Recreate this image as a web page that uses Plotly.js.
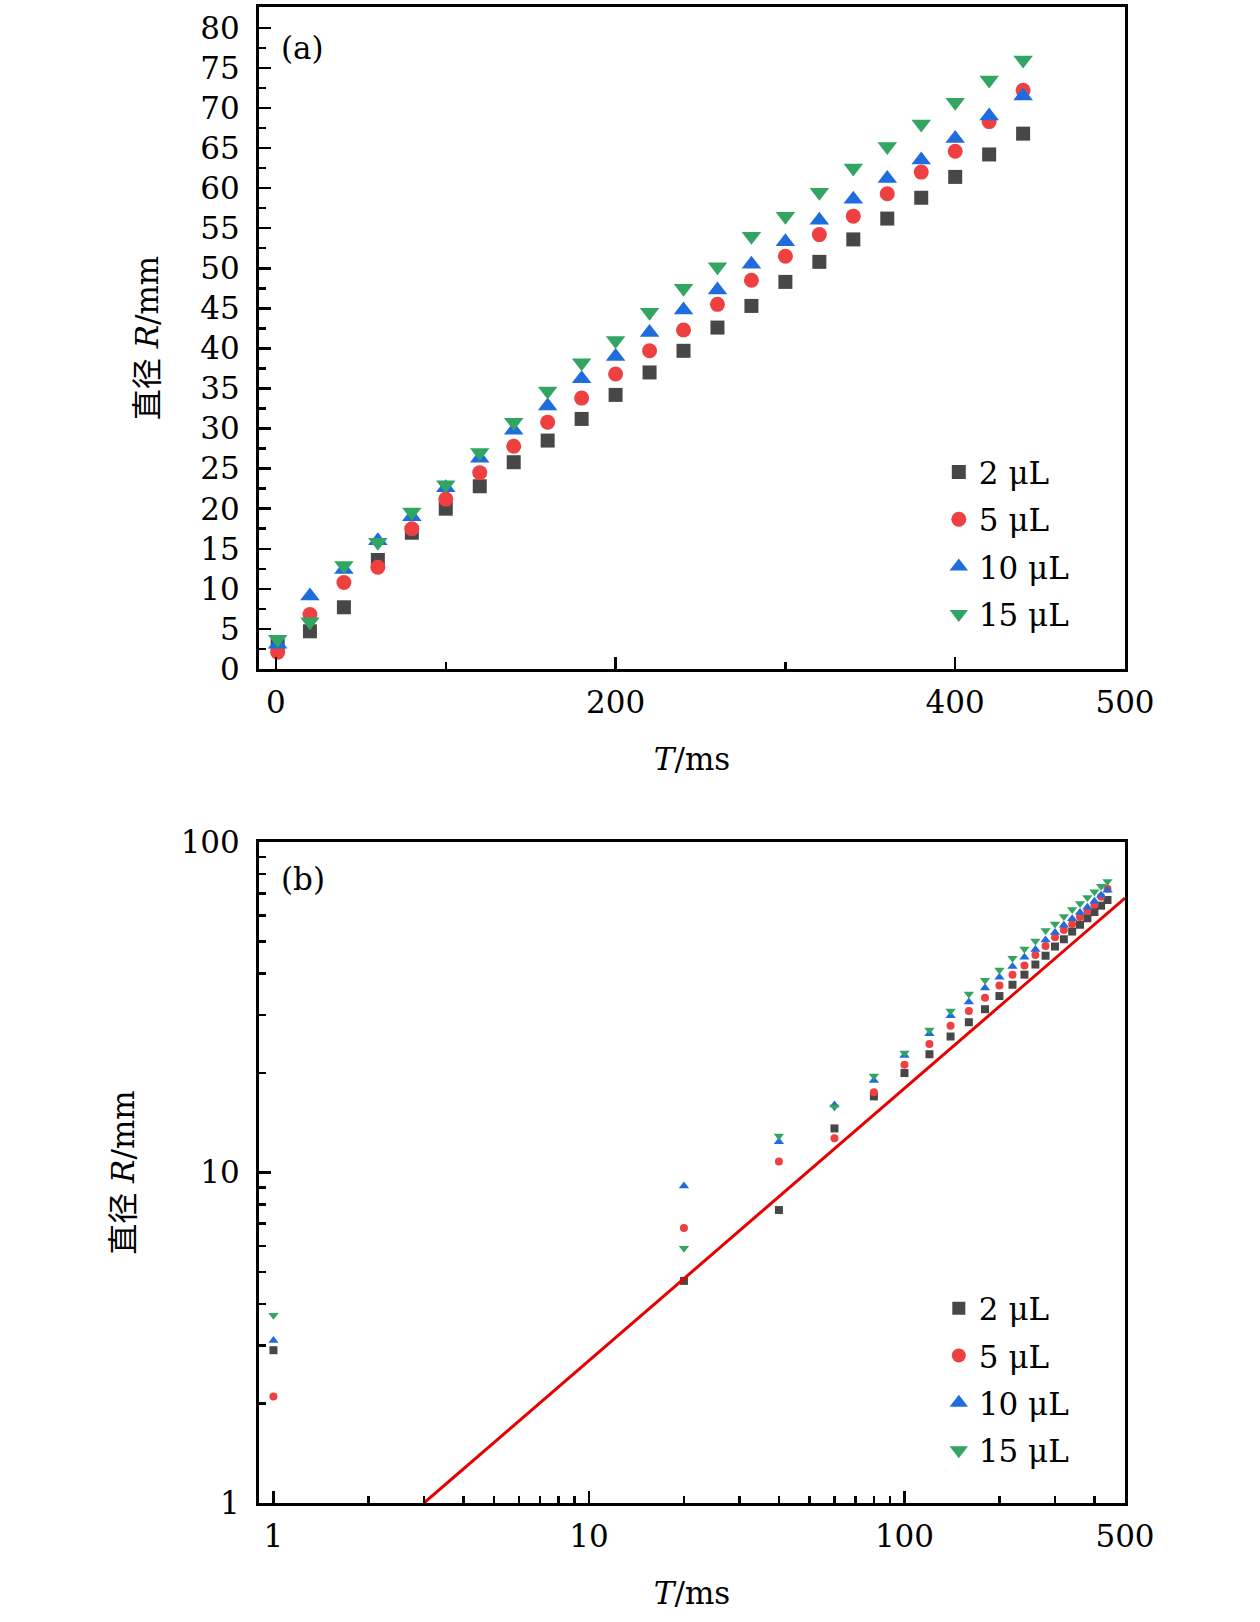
<!DOCTYPE html>
<html>
<head>
<meta charset="utf-8">
<script src="https://cdn.plot.ly/plotly-3.0.1.min.js"></script>
<style>html,body{margin:0;padding:0;background:#fff;}</style>
</head>
<body>
<div id="chart" style="width:1260px;height:1622px;"></div>
<script>
// Time (ms)
const timeMs = [1, 20, 40, 60, 80, 100, 120, 140, 160, 180, 200, 220, 240, 260, 280, 300, 320, 340, 360, 380, 400, 420, 440];
// Diameter R (mm) per droplet volume
const r2uL  = [2.9, 4.7, 7.7, 13.6, 17.0, 20.0, 22.8, 25.8, 28.5, 31.2, 34.2, 37.0, 39.7, 42.6, 45.3, 48.3, 50.8, 53.6, 56.2, 58.8, 61.4, 64.2, 66.8];
const r5uL  = [2.1, 6.8, 10.8, 12.7, 17.5, 21.2, 24.5, 27.8, 30.8, 33.8, 36.8, 39.7, 42.3, 45.5, 48.5, 51.5, 54.2, 56.5, 59.3, 62.0, 64.6, 68.3, 72.2];
const r10uL = [3.1, 9.1, 12.4, 16.0, 19.0, 22.6, 26.3, 29.8, 32.8, 36.2, 39.0, 42.0, 44.8, 47.3, 50.5, 53.3, 56.0, 58.6, 61.2, 63.5, 66.2, 69.0, 71.5];
const r15uL = [3.7, 5.9, 12.9, 15.8, 19.6, 23.0, 27.0, 30.8, 34.7, 38.2, 41.0, 44.5, 47.5, 50.2, 54.0, 56.5, 59.5, 62.5, 65.2, 68.0, 70.7, 73.5, 76.0];
// Reference power-law line in panel (b), endpoints
const lineT = [3.0, 500];
const lineR = [1.0, 67.7];

const seriesNames = ['2 μL', '5 μL', '10 μL', '15 μL'];
const seriesData = [r2uL, r5uL, r10uL, r15uL];
const symbols = ['square', 'circle', 'triangle-up', 'triangle-down'];
const colors = ['#474747', '#ee4040', '#1f6cde', '#33a563'];
const sizesA = [14, 15, 17, 17];
const sizesB = [8, 8, 9, 9];
const sizesLegend = [13, 14, 16, 16];

const traces = [];
for (let i = 0; i < 4; i++) {
  traces.push({
    x: timeMs, y: seriesData[i], type: 'scatter', mode: 'markers',
    name: seriesNames[i], xaxis: 'x', yaxis: 'y', legend: 'legend', legendgroup: 'a' + i,
    marker: {symbol: symbols[i], color: colors[i], size: sizesA[i], line: {width: 0}}
  });
}
for (let i = 0; i < 4; i++) {
  traces.push({
    x: timeMs, y: seriesData[i], type: 'scatter', mode: 'markers',
    name: seriesNames[i], xaxis: 'x2', yaxis: 'y2', showlegend: false,
    marker: {symbol: symbols[i], color: colors[i], size: sizesB[i], line: {width: 0}}
  });
}
// legend entries for panel (b) (no data points, legend symbols only)
for (let i = 0; i < 4; i++) {
  traces.push({
    x: [null], y: [null], type: 'scatter', mode: 'markers',
    name: seriesNames[i], xaxis: 'x2', yaxis: 'y2', legend: 'legend2', legendgroup: 'b' + i,
    marker: {symbol: symbols[i], color: colors[i], size: sizesLegend[i], line: {width: 0}}
  });
}
traces.push({
  x: lineT, y: lineR, type: 'scatter', mode: 'lines', xaxis: 'x2', yaxis: 'y2',
  showlegend: false, line: {color: '#e60000', width: 3}
});

const FONT = 'DejaVu Serif, Noto Sans CJK SC, serif';
const axisCommon = {
  showline: true, linewidth: 3, linecolor: 'black', mirror: true,
  showgrid: false, zeroline: false,
  ticks: 'inside', ticklen: 12, tickwidth: 2.5, tickcolor: 'black',
  tickfont: {family: FONT, size: 31, color: 'black'}
};
const yTitle = {text: '直径 <i>R</i>/mm', font: {family: FONT, size: 31, color: 'black'}};
const xTitle = {text: '<i>T</i>/ms', font: {family: FONT, size: 31, color: 'black'}};

const layout = {
  width: 1260, height: 1622,
  margin: {l: 259, r: 135, t: 7, b: 119},
  paper_bgcolor: 'white', plot_bgcolor: 'white',
  font: {family: FONT, size: 31, color: 'black'},
  xaxis: Object.assign({}, axisCommon, {
    domain: [0, 1], anchor: 'y', range: [-10, 500],
    tickmode: 'array', tickvals: [0, 200, 400, 500], ticktext: ['0', '200', '400', '500'],
    ticklabelstandoff: 4,
    minor: {tickvals: [100, 300], ticks: 'inside', ticklen: 7, tickwidth: 2.5, tickcolor: 'black'},
    title: Object.assign({}, xTitle, {standoff: 30})
  }),
  yaxis: Object.assign({}, axisCommon, {
    domain: [0.5575, 1], anchor: 'x', range: [0, 82.6],
    tickmode: 'linear', tick0: 0, dtick: 5,
    ticklabelstandoff: 10,
    minor: {dtick: 2.5, ticks: 'inside', ticklen: 7, tickwidth: 2.5, tickcolor: 'black'},
    title: Object.assign({}, yTitle, {standoff: 33})
  }),
  xaxis2: Object.assign({}, axisCommon, {
    type: 'log', domain: [0, 1], anchor: 'y2', range: [Math.log10(0.9), Math.log10(500)],
    tickmode: 'array', tickvals: [1, 10, 100, 500], ticktext: ['1', '10', '100', '500'],
    ticklabelstandoff: 4,
    minor: {tickvals: [2, 3, 4, 5, 6, 7, 8, 9, 20, 30, 40, 50, 60, 70, 80, 90, 200, 300, 400],
            ticks: 'inside', ticklen: 7, tickwidth: 2.5, tickcolor: 'black'},
    title: Object.assign({}, xTitle, {standoff: 30})
  }),
  yaxis2: Object.assign({}, axisCommon, {
    type: 'log', domain: [0, 0.4418], anchor: 'x2', range: [0, 2],
    tickmode: 'array', tickvals: [1, 10, 100], ticktext: ['1', '10', '100'],
    ticklabelstandoff: 10,
    minor: {tickvals: [2, 3, 4, 5, 6, 7, 8, 9, 20, 30, 40, 50, 60, 70, 80, 90],
            ticks: 'inside', ticklen: 7, tickwidth: 2.5, tickcolor: 'black'},
    title: Object.assign({}, yTitle, {standoff: 37})
  }),
  legend: {
    x: 0.785, xanchor: 'left', y: 0.707, yanchor: 'top',
    bgcolor: 'rgba(0,0,0,0)', borderwidth: 0, itemsizing: 'trace',
    font: {family: FONT, size: 31, color: 'black'}, tracegroupgap: 4
  },
  legend2: {
    x: 0.785, xanchor: 'left', y: 0.148, yanchor: 'top',
    bgcolor: 'rgba(0,0,0,0)', borderwidth: 0, itemsizing: 'trace',
    font: {family: FONT, size: 31, color: 'black'}, tracegroupgap: 4
  },
  annotations: [
    {text: '(a)', xref: 'x domain', yref: 'y domain', x: 0.05, y: 0.938,
     xanchor: 'center', yanchor: 'middle', showarrow: false,
     font: {family: FONT, size: 31, color: 'black'}},
    {text: '(b)', xref: 'x2 domain', yref: 'y2 domain', x: 0.051, y: 0.944,
     xanchor: 'center', yanchor: 'middle', showarrow: false,
     font: {family: FONT, size: 31, color: 'black'}}
  ]
};

Plotly.newPlot('chart', traces, layout, {displayModeBar: false, staticPlot: true});
</script>
</body>
</html>
